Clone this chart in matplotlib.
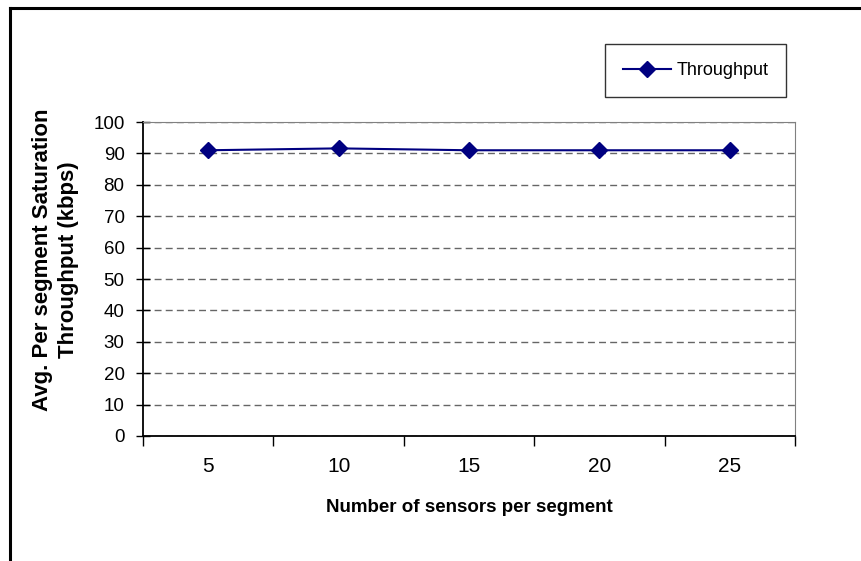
import matplotlib
matplotlib.use("Agg")
import matplotlib.pyplot as plt
from matplotlib.lines import Line2D

plt.rcParams['font.family'] = ['Liberation Sans', 'DejaVu Sans']

sensors = ["5", "10", "15", "20", "25"]
throughput = [91.0, 91.6, 91.0, 91.0, 91.0]
yticks = [0, 10, 20, 30, 40, 50, 60, 70, 80, 90, 100]

W, H = 861, 561
fig = plt.figure(figsize=(W / 100, H / 100), dpi=100)
ax = fig.add_axes([143 / W, 1 - 436 / H, 652 / W, 314 / H])

x = list(range(len(sensors)))
ax.plot(x, throughput, color="#000080", marker="D", markersize=8, linewidth=1.5,
        label="Throughput", zorder=3)

ax.set_xlim(-0.5, len(sensors) - 0.5)
ax.set_ylim(0, 100)
ax.set_yticks(yticks)
ax.set_yticklabels([str(v) for v in yticks], fontsize=13.5)
ax.yaxis.grid(True, linestyle=(0, (5, 3)), color="#666666", linewidth=1)
ax.set_axisbelow(True)

# category labels sit between boundary ticks
ax.set_xticks([i - 0.5 for i in range(len(sensors) + 1)])
ax.set_xticklabels([])
ax.set_xticks(x, minor=True)
ax.set_xticklabels(sensors, minor=True, fontsize=15)
ax.tick_params(axis="x", which="major", direction="out", length=7, width=1, color="black")
ax.tick_params(axis="x", which="minor", length=0, pad=15)
ax.tick_params(axis="y", direction="inout", length=10.5, width=1, color="black", pad=8)

for side in ("top", "right"):
    ax.spines[side].set_color("#808080")
for side in ("left", "bottom"):
    ax.spines[side].set_color("black")
    ax.spines[side].set_linewidth(1.3)

ax.set_xlabel("Number of sensors per segment", fontsize=13.5, fontweight="bold",
              labelpad=17)
ax.set_ylabel("Avg. Per segment Saturation\nThroughput (kbps)", fontsize=16,
              fontweight="bold", linespacing=1.3)
ax.yaxis.set_label_coords(-0.098, 0.56)

leg = ax.legend(loc="center", bbox_to_anchor=(695.5 / W, 1 - 70.5 / H),
                bbox_transform=fig.transFigure, fontsize=13, frameon=True,
                fancybox=False, borderpad=1.0, handlelength=2.66, handletextpad=0.3)
leg.get_frame().set_edgecolor("black")
leg.get_frame().set_linewidth(1)

# outer chart border (left and top edges)
fig.add_artist(Line2D([10 / W, 10 / W], [0, 1 - 8 / H], color="black", linewidth=2.2,
                      transform=fig.transFigure))
fig.add_artist(Line2D([10 / W, 1], [1 - 8 / H, 1 - 8 / H], color="black", linewidth=2.2,
                      transform=fig.transFigure))

fig.savefig("out.png", dpi=100)
